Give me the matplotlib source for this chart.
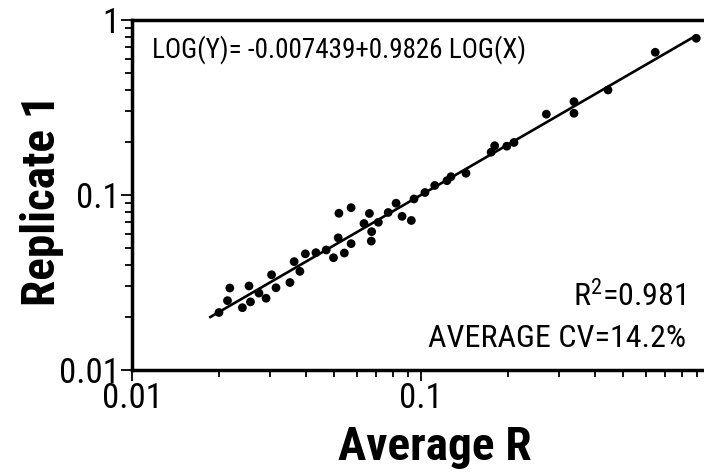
"""Replicate 1 vs Average R, log-log scatter with fitted line."""

import matplotlib
matplotlib.use("Agg")
import matplotlib.pyplot as plt
import matplotlib.ticker as mticker
import numpy as np

# ── data ──────────────────────────────────────────────────────────────────────
AVERAGE_R = [
    0.0200, 0.0214, 0.0218, 0.0241, 0.0254, 0.0257, 0.0275, 0.0291, 0.0304,
    0.0315, 0.0352, 0.0364, 0.0381, 0.0398, 0.0433, 0.0470, 0.0498, 0.0517,
    0.0520, 0.0543, 0.0573, 0.0573, 0.0635, 0.0663, 0.0675, 0.0673, 0.0712,
    0.0770, 0.0820, 0.0860, 0.0926, 0.0946, 0.1032, 0.1116, 0.1230, 0.1270,
    0.1431, 0.1749, 0.1799, 0.1981, 0.2098, 0.2715, 0.3384, 0.3384, 0.4437,
    0.6467, 0.8966,
]
REPLICATE_1 = [
    0.0213, 0.0249, 0.0294, 0.0227, 0.0302, 0.0245, 0.0275, 0.0257, 0.0350,
    0.0295, 0.0316, 0.0416, 0.0366, 0.0461, 0.0468, 0.0485, 0.0438, 0.0569,
    0.0786, 0.0466, 0.0527, 0.0846, 0.0687, 0.0784, 0.0617, 0.0545, 0.0698,
    0.0794, 0.0897, 0.0755, 0.0715, 0.0949, 0.1033, 0.1133, 0.1207, 0.1272,
    0.1331, 0.1756, 0.1912, 0.1900, 0.1995, 0.2895, 0.3413, 0.2930, 0.3981,
    0.6537, 0.7858,
]

FIT_TEXT = "LOG(Y)= -0.007439+0.9826 LOG(X)"
R2_TEXT = "R$^{2}$=0.981"
CV_TEXT = "AVERAGE CV=14.2%"
LINE_X_RANGE = [0.0185, 0.9]

FONT = ["Roboto Condensed", "Archivo Narrow", "DejaVu Sans"]
plt.rcParams["font.family"] = FONT
plt.rcParams["mathtext.fontset"] = "custom"
plt.rcParams["mathtext.rm"] = "Roboto Condensed"
plt.rcParams["mathtext.it"] = "Roboto Condensed"
plt.rcParams["mathtext.default"] = "regular"


def main() -> None:
    fig = plt.figure(figsize=(7.04, 4.73), dpi=100)
    ax = fig.add_axes([0.1875, 0.2178, 0.815, 0.74])

    x = np.array(AVERAGE_R)
    y = np.array(REPLICATE_1)

    # regression in log space, drawn across the data range
    slope, icept = np.polyfit(np.log10(x), np.log10(y), 1)
    lx = np.array(LINE_X_RANGE)
    ax.plot(lx, 10 ** (icept + slope * np.log10(lx)), color="black", lw=1.9,
            solid_capstyle="butt", zorder=2)
    ax.scatter(x, y, s=40, color="black", edgecolors="none", zorder=3)

    ax.set_xscale("log")
    ax.set_yscale("log")
    ax.set_xlim(0.01, 0.967)
    ax.set_ylim(0.01, 1)

    ax.xaxis.set_major_locator(mticker.FixedLocator([0.01, 0.1]))
    ax.yaxis.set_major_locator(mticker.FixedLocator([0.01, 0.1, 1]))
    ax.xaxis.set_major_formatter(mticker.FixedFormatter(["0.01", "0.1"]))
    ax.yaxis.set_major_formatter(mticker.FixedFormatter(["0.01", "0.1", "1"]))
    ax.xaxis.set_minor_formatter(mticker.NullFormatter())
    ax.yaxis.set_minor_formatter(mticker.NullFormatter())

    ax.spines["right"].set_visible(False)
    for side in ("left", "top", "bottom"):
        ax.spines[side].set_linewidth(2.5)
    ax.tick_params(which="major", direction="out", length=8, width=1.3,
                   labelsize=25, pad=1, colors="black")
    ax.tick_params(which="minor", direction="out", length=5, width=1.3)

    ax.set_xlabel("Average R", fontsize=34, fontweight="bold")
    ax.set_ylabel("Replicate 1", fontsize=34, fontweight="bold")
    ax.xaxis.set_label_coords(0.528, -0.158)
    ax.yaxis.set_label_coords(-0.119, 0.486)

    ax.text(0.035, 0.955, FIT_TEXT, transform=ax.transAxes, fontsize=19.5,
            ha="left", va="top")
    ax.text(0.965, 0.21, R2_TEXT, transform=ax.transAxes, fontsize=23,
            ha="right", va="center")
    ax.text(0.965, 0.09, CV_TEXT, transform=ax.transAxes, fontsize=23,
            ha="right", va="center")

    fig.savefig("out.png", dpi=100)
    plt.close(fig)


if __name__ == "__main__":
    main()
